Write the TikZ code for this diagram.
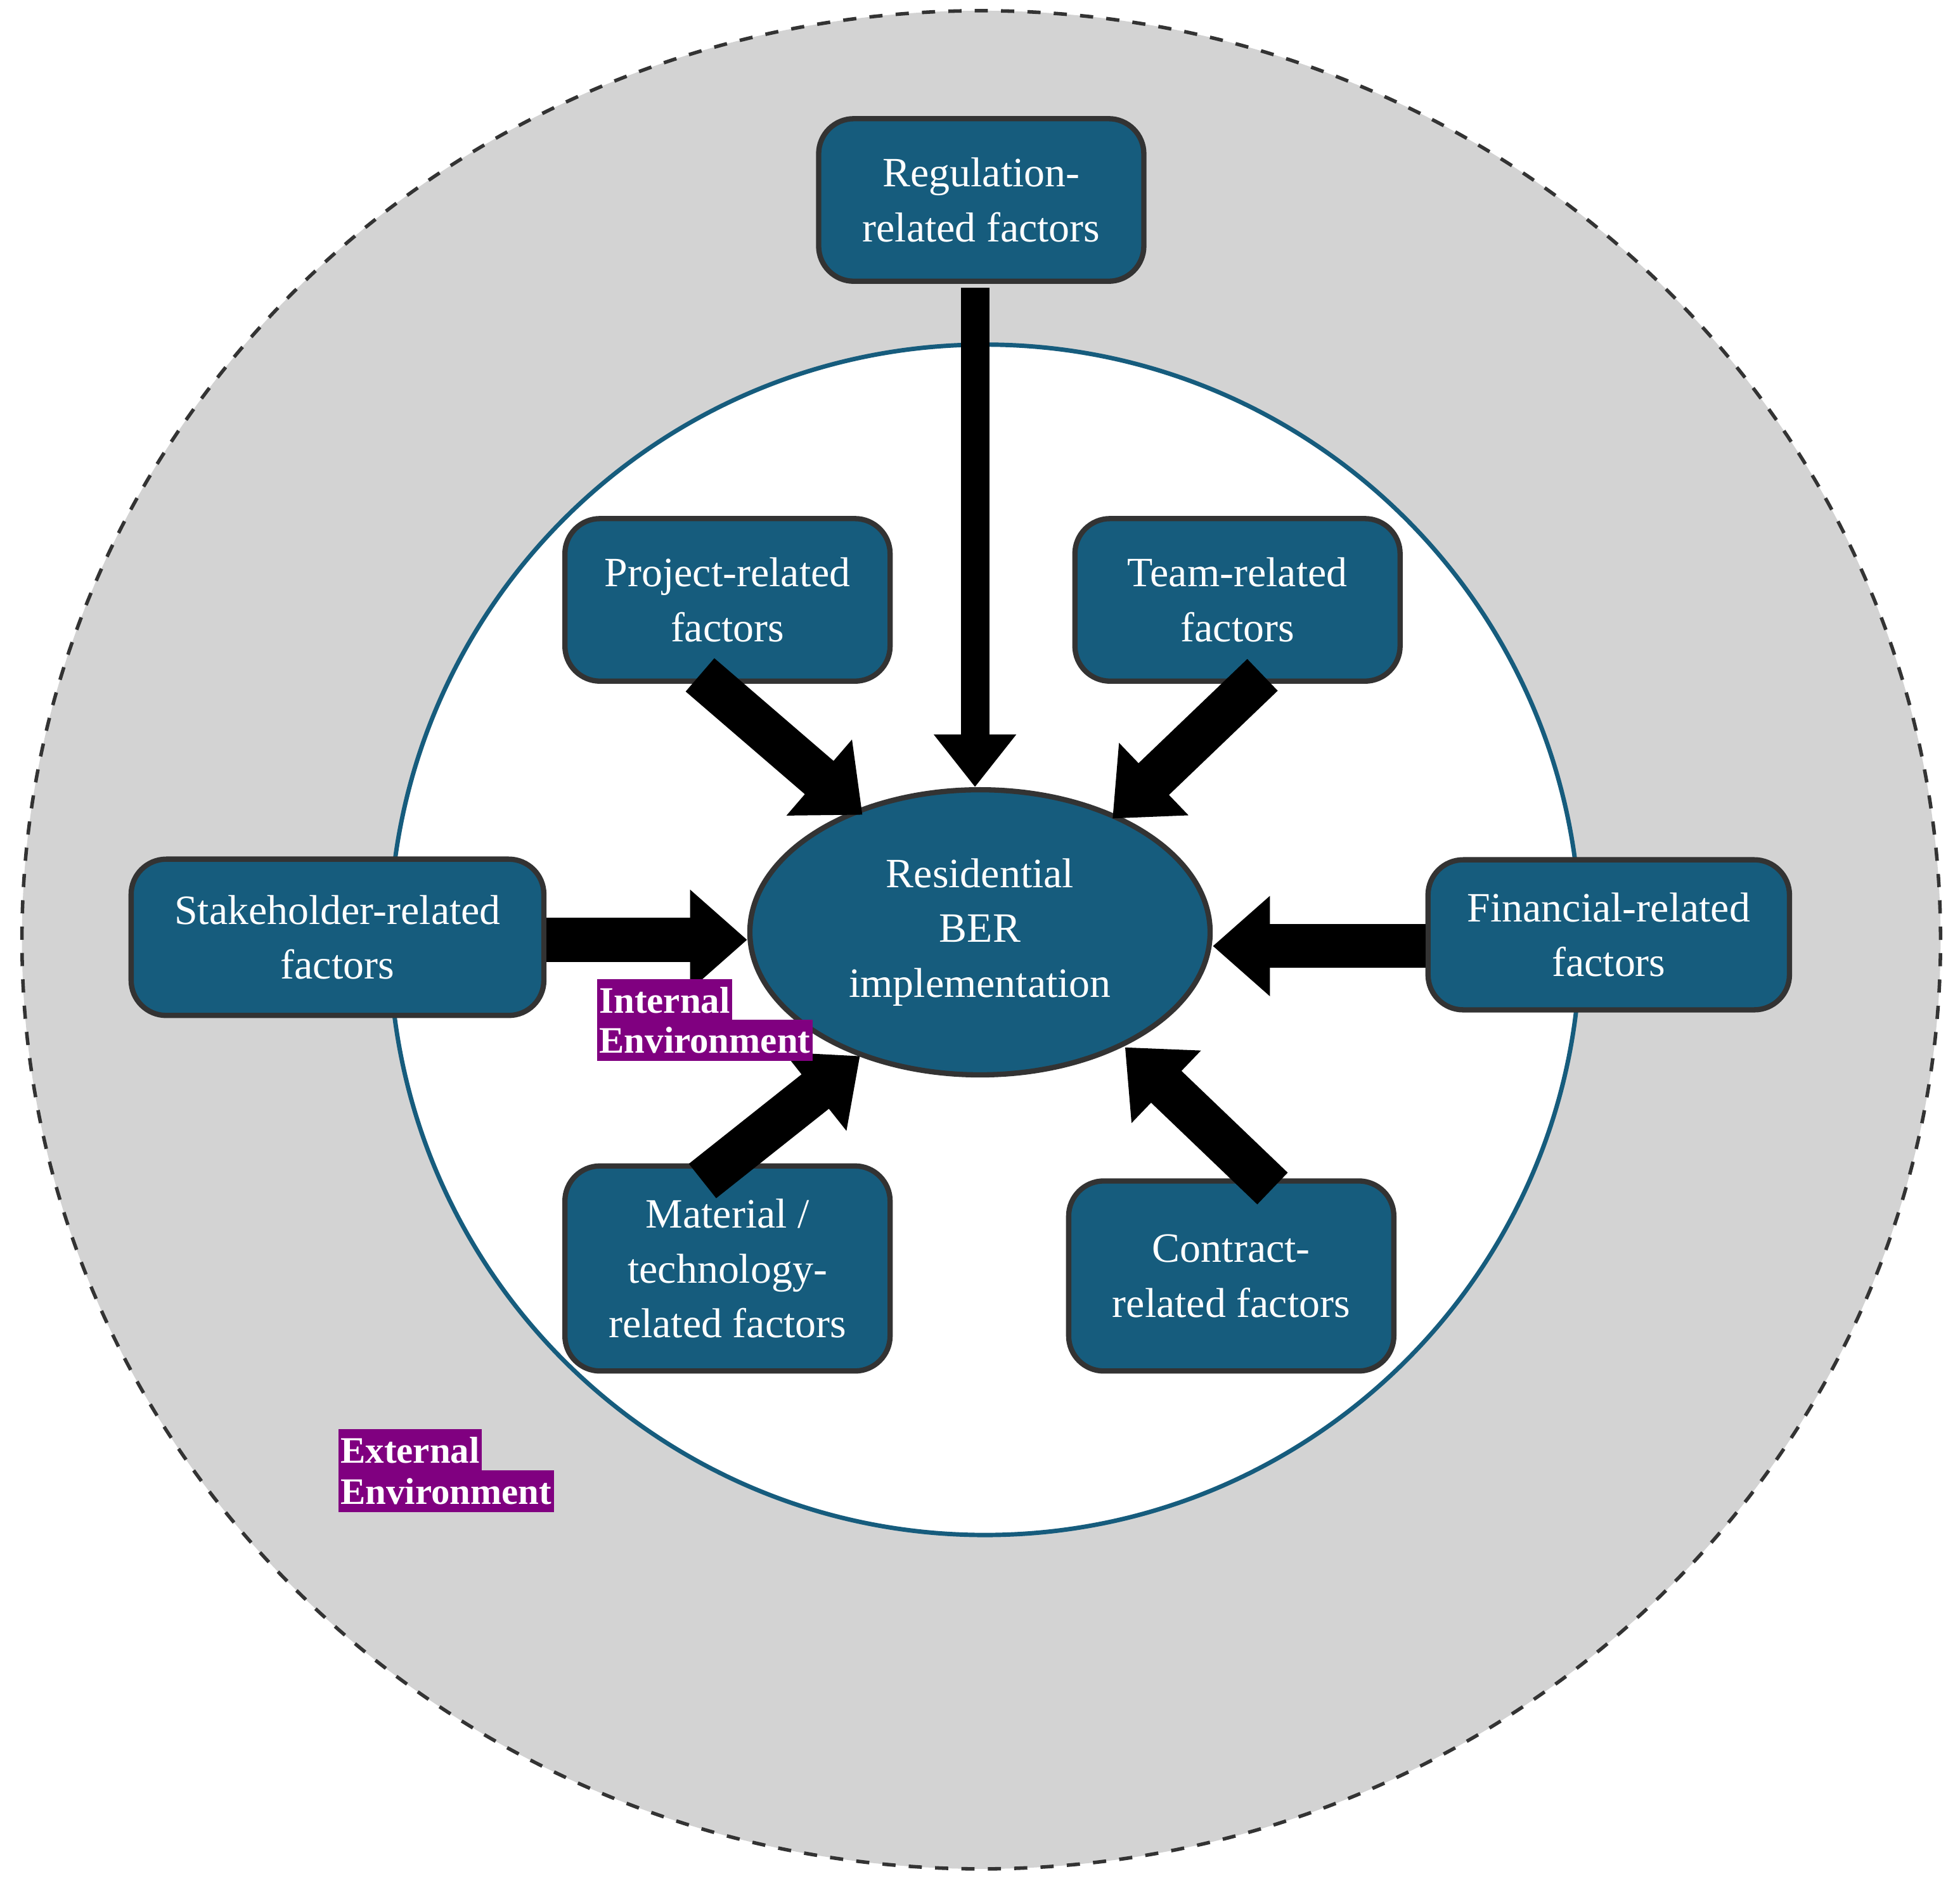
\documentclass[tikz,border=0pt]{standalone}
\usepackage{fontspec}
\setmainfont{Liberation Serif}
\usetikzlibrary{arrows.meta,shapes.geometric}
\definecolor{teal1}{RGB}{22,92,125}
\definecolor{grayb}{RGB}{211,211,211}
\definecolor{purp}{RGB}{128,0,128}
\begin{document}
\begin{tikzpicture}[x=0.01cm,y=-0.01cm,
  box/.style={draw=black!80,line width=1.2pt,fill=teal1,rounded corners=8pt,text=white,align=center,font=\fontsize{9.5}{12.5}\selectfont,inner sep=0pt},
  big/.style={line width=10pt,-{Triangle[length=13pt,width=22pt]}},
  lab/.style={fill=purp,text=white,font=\bfseries\fontsize{8.5}{9.5}\selectfont,inner sep=0.5pt,anchor=north west,minimum height=0.33cm}]
\useasboundingbox (0,0) rectangle (1568,1520);
\node[draw=black!80,dashed,line width=0.8pt,fill=grayb,ellipse,minimum width=15.34cm,minimum height=14.86cm] (outer) at (785,752) {};
\node[draw=teal1,line width=1pt,fill=white,circle,minimum size=9.52cm] (inner) at (788,752) {};
\node[draw=black!80,line width=1.2pt,fill=teal1,ellipse,minimum width=3.68cm,minimum height=2.28cm,text=white,align=center,font=\fontsize{9.5}{12.5}\selectfont,inner sep=0pt] (ber) at (784,746) {Residential\\BER\\implementation};
\node[box,minimum width=2.6cm,minimum height=1.3cm] (reg) at (785,160) {Regulation-\\related factors};
\node[box,minimum width=2.6cm,minimum height=1.3cm] (proj) at (582,480) {Project-related\\factors};
\node[box,minimum width=2.6cm,minimum height=1.3cm] (team) at (990,480) {Team-related\\factors};
\node[box,minimum width=3.3cm,minimum height=1.25cm] (stake) at (270,750) {Stakeholder-related\\factors};
\node[box,minimum width=2.89cm,minimum height=1.2cm] (fin) at (1287,748) {Financial-related\\factors};
\node[box,minimum width=2.6cm,minimum height=1.64cm] (mat) at (582,1015) {Material /\\technology-\\related factors};
\node[box,minimum width=2.6cm,minimum height=1.52cm] (con) at (985,1021) {Contract-\\related factors};
\draw[line width=6.5pt,-{Triangle[length=12pt,width=18pt]}] (reg.south -| 780,0) ++(0,3) coordinate (r0) -- (ber.north -| r0);
\coordinate (s0) at (stake.east |- 0,752);
\draw[big] (s0) -- (ber.west |- s0);
\coordinate (f0) at (fin.west |- 0,757);
\draw[big] (f0) -- (ber.east |- f0);
\draw[big] (proj) ++(-22,60) coordinate (p0) -- (690,652) coordinate (p1);
\draw[big] (team) ++(20,60) coordinate (t0) -- (890,655) coordinate (t1);
\draw[big] (mat) ++(-20,-70) coordinate (m0) -- (688,845) coordinate (m1);
\draw[big] (con) ++(33,-70) coordinate (c0) -- (900,838) coordinate (c1);
\node[lab] (int1) at (477,783) {Internal};
\node[lab] (int2) at (477,815) {Environment};
\node[lab] (ext1) at (270,1143) {External};
\node[lab] (ext2) at (270,1176) {Environment};
\end{tikzpicture}
\end{document}
